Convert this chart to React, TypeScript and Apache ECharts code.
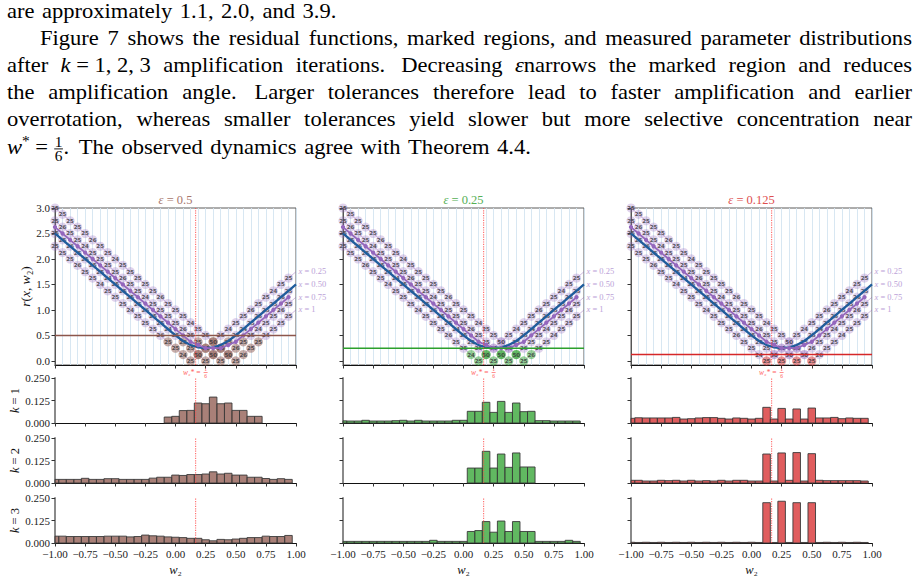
import React, { useEffect, useRef } from 'react';
import * as echarts from 'echarts';

// ---------------- data ----------------
const wGrid = [-1, -0.9375, -0.875, -0.8125, -0.75, -0.6875, -0.625, -0.5625, -0.5, -0.4375, -0.375, -0.3125, -0.25, -0.1875, -0.125, -0.0625, 0, 0.0625, 0.125, 0.1875, 0.25, 0.3125, 0.375, 0.4375, 0.5, 0.5625, 0.625, 0.6875, 0.75, 0.8125, 0.875, 0.9375];
const wEnd = 1;
const xLabelTexts = ['0.25', '0.50', '0.75', '1'];

const rX025 = [2.25, 2.125, 2.0, 1.875, 1.75, 1.625, 1.5, 1.375, 1.25, 1.125, 1.0, 0.875, 0.75, 0.625, 0.5, 0.375, 0.25, 0.125, 0, 0.125, 0.25, 0.375, 0.5, 0.625, 0.75, 0.875, 1.0, 1.125, 1.25, 1.375, 1.5, 1.625];
const rX050 = [2.5, 2.375, 2.25, 2.125, 2.0, 1.875, 1.75, 1.625, 1.5, 1.375, 1.25, 1.125, 1.0, 0.875, 0.75, 0.625, 0.5, 0.375, 0.25, 0.125, 0, 0.125, 0.25, 0.375, 0.5, 0.625, 0.75, 0.875, 1.0, 1.125, 1.25, 1.375];
const rX075 = [2.75, 2.625, 2.5, 2.375, 2.25, 2.125, 2.0, 1.875, 1.75, 1.625, 1.5, 1.375, 1.25, 1.125, 1.0, 0.875, 0.75, 0.625, 0.5, 0.375, 0.25, 0.125, 0, 0.125, 0.25, 0.375, 0.5, 0.625, 0.75, 0.875, 1.0, 1.125];
const rX100 = [3.0, 2.875, 2.75, 2.625, 2.5, 2.375, 2.25, 2.125, 2.0, 1.875, 1.75, 1.625, 1.5, 1.375, 1.25, 1.125, 1.0, 0.875, 0.75, 0.625, 0.5, 0.375, 0.25, 0.125, 0, 0.125, 0.25, 0.375, 0.5, 0.625, 0.75, 0.875];
const rAtWEnd = [1.75, 1.5, 1.25, 1.0];

const cX025 = [25, 25, 25, 26, 25, 25, 24, 25, 25, 25, 24, 25, 25, 25, 26, 25, 25, 24, 25, 25, 25, 25, 25, 24, 25, 25, 26, 25, 25, 24, 25, 25];
const cX050 = [25, 25, 26, 25, 25, 25, 25, 24, 25, 25, 25, 25, 26, 25, 25, 24, 25, 25, 25, 25, 25, 25, 25, 25, 25, 24, 25, 25, 25, 25, 26, 25];
const cX075 = [25, 26, 25, 25, 24, 25, 25, 25, 25, 26, 25, 25, 24, 25, 25, 25, 25, 26, 25, 25, 25, 25, 25, 25, 26, 25, 25, 24, 25, 25, 26, 25];
const cX100 = [25, 25, 25, 25, 25, 26, 25, 25, 24, 25, 25, 25, 25, 25, 26, 25, 25, 25, 24, 25, 25, 25, 25, 25, 25, 26, 25, 25, 24, 25, 25, 25];

// mean residual over x (continuous) and over the four sampled x
const blueCurve = [2.5, 2.375, 2.25, 2.125, 2.0, 1.875, 1.75, 1.625, 1.5, 1.375, 1.25, 1.125, 1.0, 0.875, 0.75, 0.625, 0.5, 0.391, 0.3125, 0.266, 0.25, 0.266, 0.3125, 0.391, 0.5, 0.625, 0.75, 0.875, 1.0, 1.125, 1.25, 1.375, 1.5];
const purpleMean = [2.625, 2.5, 2.375, 2.25, 2.125, 2.0, 1.875, 1.75, 1.625, 1.5, 1.375, 1.25, 1.125, 1.0, 0.875, 0.75, 0.625, 0.5, 0.375, 0.3125, 0.25, 0.25, 0.25, 0.3125, 0.375, 0.5, 0.625, 0.75, 0.875, 1.0, 1.125, 1.25];

const epsilons = [0.5, 0.25, 0.125];
const epsTitles = ['0.5', '0.25', '0.125'];
const wStar = 1 / 6;

const h05k1 = [0, 0, 0, 0, 0, 0, 0, 0, 0, 0, 0, 0, 0, 0, 0, 0.033, 0.037, 0.069, 0.070, 0.111, 0.107, 0.144, 0.107, 0.111, 0.070, 0.070, 0.037, 0.037, 0, 0, 0, 0];
const h05k2 = [0.02, 0.02, 0.02, 0.02, 0.026, 0.02, 0.02, 0.024, 0.024, 0.02, 0.02, 0.02, 0.02, 0.027, 0.032, 0.032, 0.044, 0.042, 0.047, 0.047, 0.05, 0.062, 0.05, 0.054, 0.044, 0.044, 0.032, 0.032, 0.025, 0.02, 0.024, 0.02];
const h05k3 = [0.038, 0.038, 0.036, 0.036, 0.036, 0.036, 0.036, 0.038, 0.038, 0.038, 0.034, 0.036, 0.044, 0.04, 0.038, 0.034, 0.032, 0.03, 0.026, 0.026, 0.018, 0.012, 0.02, 0.018, 0.022, 0.026, 0.03, 0.03, 0.038, 0.036, 0.036, 0.042];
const h025k1 = [0.012, 0.011, 0.011, 0.015, 0.011, 0.011, 0.011, 0.013, 0.015, 0.011, 0.015, 0.011, 0.011, 0.011, 0.011, 0.015, 0.015, 0.065, 0.065, 0.115, 0.059, 0.12, 0.059, 0.111, 0.063, 0.065, 0.013, 0.013, 0.011, 0.011, 0.011, 0.011];
const h025k2 = [0, 0, 0, 0, 0, 0, 0, 0, 0, 0, 0, 0, 0, 0, 0, 0, 0, 0.083, 0.083, 0.176, 0.083, 0.161, 0.087, 0.167, 0.089, 0.089, 0, 0, 0, 0, 0, 0];
const h025k3 = [0.009, 0.009, 0.009, 0.009, 0.009, 0.009, 0.009, 0.009, 0.009, 0.009, 0.009, 0.009, 0.015, 0.009, 0.009, 0.009, 0.009, 0.064, 0.069, 0.119, 0.06, 0.122, 0.064, 0.119, 0.064, 0.064, 0.009, 0.009, 0.009, 0.009, 0.015, 0.009];
const h0125k1 = [0.026, 0.029, 0.028, 0.028, 0.028, 0.028, 0.031, 0.022, 0.024, 0.028, 0.03, 0.03, 0.026, 0.022, 0.028, 0.026, 0.022, 0.026, 0.087, 0.022, 0.081, 0.022, 0.078, 0.022, 0.083, 0.028, 0.028, 0.031, 0.024, 0.028, 0.026, 0.026];
const h0125k2 = [0.015, 0.015, 0.011, 0.011, 0.015, 0.013, 0.015, 0.011, 0.015, 0.011, 0.013, 0.011, 0.015, 0.011, 0.015, 0.015, 0.011, 0.011, 0.161, 0.011, 0.167, 0.015, 0.169, 0.011, 0.163, 0.015, 0.013, 0.013, 0.013, 0.013, 0.013, 0.011];
const h0125k3 = [0.004, 0.003, 0.004, 0.003, 0.004, 0.003, 0.004, 0.003, 0.004, 0.003, 0.004, 0.003, 0.004, 0.003, 0.004, 0.003, 0.004, 0.003, 0.224, 0.003, 0.232, 0.003, 0.224, 0.003, 0.224, 0.003, 0.004, 0.003, 0.004, 0.003, 0.004, 0.003];

const yTicksTop = [0, 0.5, 1, 1.5, 2, 2.5, 3];
const topRange = [-0.08, 3.0];
const histRange = [0, 0.25];
const binWidth = 0.0625;

const PARA = [
  { x0: 7, x1: null, base: 17.9, text: 'are approximately 1.1, 2.0, and 3.9.' },
  { x0: 40, x1: 912, base: 45.1, text: 'Figure 7 shows the residual functions, marked regions, and measured parameter distributions' },
  { x0: 7, x1: 912, base: 72.3, text: 'after {k}~=~1,~2,~3 amplification iterations. Decreasing {ε}narrows the marked region and reduces' },
  { x0: 7, x1: 912, base: 99.5, text: 'the amplification angle. Larger tolerances therefore lead to faster amplification and earlier' },
  { x0: 7, x1: 912, base: 126.7, text: 'overrotation, whereas smaller tolerances yield slower but more selective concentration near' },
  { x0: 7, x1: null, base: 153.9, text: '{w}^*~=~[1/6]. The observed dynamics agree with Theorem 4.4.' },
];

// ---------------- layout / style ----------------
const FONT = 'Liberation Serif, DejaVu Serif, serif';
const colLeft = [55, 343, 631];
const plotW = 241;
const topTop = 208;
const topH = 157;
const histTops = [378, 438, 498];
const histH = 45;
const colColors = ['#8c564b', '#2ca02c', '#d62728'];
const titleColors = ['#a8776c', '#55b055', '#de4f4f'];
const barFills = ['rgba(140,86,75,0.75)', 'rgba(44,160,44,0.75)', 'rgba(214,39,40,0.75)'];
const markFills = ['rgba(140,86,75,0.6)', 'rgba(44,160,44,0.6)', 'rgba(214,39,40,0.62)'];
const lavender = 'rgba(148,103,189,0.36)';
const labelPurple = '#bca2d8';
const PS = 20.5;
const SX = 1.1;

const fmt2 = (v: number) => (v < 0 ? '\u2212' : '') + Math.abs(v).toFixed(2);

function txt(text: string, x: number, y: number, size: number, fill: string, align: string, italic?: boolean, rich?: any, sx?: number) {
  const style: any = {
    text, x: 0, y: 0, fontSize: size, fontFamily: FONT, fontStyle: italic ? 'italic' : 'normal', fill,
    textAlign: align, textVerticalAlign: 'middle', align, verticalAlign: 'middle',
  };
  if (rich) style.rich = rich;
  return { type: 'text', silent: true, x, y, scaleX: sx || 1, style };
}

function buildOption(topSeries: number[], histSeries: number[][]) {
  const grid: any[] = [];
  const xAxis: any[] = [];
  const yAxis: any[] = [];
  const series: any[] = [];
  const rLines = [rX025, rX050, rX075, rX100];
  const cLines = [cX025, cX050, cX075, cX100];
  const hists = [[h05k1, h05k2, h05k3], [h025k1, h025k2, h025k3], [h0125k1, h0125k2, h0125k3]];
  const nameRich = { i: { fontStyle: 'italic', fontSize: 12.5, fontFamily: FONT, color: '#111' } };

  for (let c = 0; c < 3; c++) {
    for (let r = 0; r < 4; r++) {
      const g = c * 4 + r;
      const isTop = r === 0;
      grid.push({
        left: colLeft[c], width: plotW,
        top: isTop ? topTop : histTops[r - 1], height: isTop ? topH : histH,
        show: isTop, borderColor: '#5a5a5a', borderWidth: 1, backgroundColor: 'rgba(0,0,0,0)',
        containLabel: false, outerBoundsMode: 'none',
      });
      xAxis.push({
        type: 'value', gridIndex: g, min: -1, max: 1, interval: 0.25, position: 'bottom',
        axisLine: { show: true, onZero: false, lineStyle: { color: '#111', width: 1.2 } },
        axisTick: { show: true, length: 3.5, lineStyle: { color: '#333', width: 1 } },
        axisLabel: {
          show: r === 3, formatter: fmt2, fontSize: 11, fontFamily: FONT, color: '#222', margin: 5,
          showMinLabel: true, showMaxLabel: true, hideOverlap: false,
        },
        splitLine: { show: false },
        name: r === 3 ? '{i|w}\u2082' : '', nameLocation: 'middle', nameGap: 20,
        nameTextStyle: { fontSize: 12.5, fontFamily: FONT, color: '#111', rich: nameRich },
      });
      if (isTop) {
        yAxis.push({
          type: 'value', gridIndex: g, min: topRange[0], max: topRange[1],
          axisLine: { show: true, onZero: false, lineStyle: { color: '#555', width: 1 } },
          axisTick: { show: true, length: 3.5, customValues: yTicksTop, lineStyle: { color: '#333' } },
          axisLabel: { show: c === 0, customValues: yTicksTop, formatter: (v: number) => v.toFixed(1), fontSize: 11, fontFamily: FONT, color: '#222', margin: 5 },
          splitLine: { show: false },
          name: c === 0 ? '{i|r}({i|x}, {i|w}\u2082)' : '', nameLocation: 'middle', nameGap: 22, nameRotate: 90,
          nameTextStyle: { fontSize: 13.5, fontFamily: FONT, color: '#111', rich: { i: { ...nameRich.i, fontSize: 13.5 } } },
        });
      } else {
        yAxis.push({
          type: 'value', gridIndex: g, min: histRange[0], max: histRange[1], interval: 0.125,
          axisLine: { show: true, onZero: false, lineStyle: { color: '#8a8a8a', width: 2 } },
          axisTick: { show: true, length: 3.5, lineStyle: { color: '#333' } },
          axisLabel: { show: c === 0, formatter: (v: number) => v.toFixed(3), fontSize: 11, fontFamily: FONT, color: '#222', margin: 5 },
          splitLine: { show: false },
          name: c === 0 ? '{i|k} = ' + r : '', nameLocation: 'middle', nameGap: 31, nameRotate: 90,
          nameTextStyle: { fontSize: 12.5, fontFamily: FONT, color: '#111', rich: nameRich },
        });
      }
    }
  }
  // light vertical grid lines of the residual panels
  for (let c = 0; c < 3; c++) {
    xAxis.push({
      type: 'value', gridIndex: c * 4, min: -1, max: 1, interval: binWidth, position: 'top',
      axisLine: { show: false }, axisTick: { show: false }, axisLabel: { show: false },
      splitLine: { show: true, lineStyle: { color: '#d4e4f1', width: 0.9 } },
    });
  }

  for (let c = 0; c < 3; c++) {
    const g = c * 4;
    const eps = epsilons[c];
    const axes = { xAxisIndex: g, yAxisIndex: g };
    for (let j = 0; j < 4; j++) {
      series.push({
        type: 'line', ...axes, silent: true, z: 1, showSymbol: false,
        data: wGrid.map((w, i) => [w, rLines[j][i]]).concat([[wEnd, rAtWEnd[j]]]),
        lineStyle: { color: 'rgba(148,103,189,0.55)', width: 0.8 },
      });
    }
    const pts: any[] = [];
    const merged = new Map<string, number[]>();
    for (let j = 0; j < 4; j++) {
      wGrid.forEach((w, i) => {
        const rv = rLines[j][i];
        const marked = rv < eps;
        pts.push({ value: [w, rv], itemStyle: { color: marked ? markFills[c] : lavender } });
        const key = w + '|' + rv;
        const prev = merged.get(key);
        if (prev) prev[2] += cLines[j][i];
        else merged.set(key, [w, rv, cLines[j][i]]);
      });
    }
    topSeries[c] = series.length;
    series.push({
      type: 'scatter', ...axes, silent: true, z: 2, symbol: 'circle', symbolSize: 9.2,
      data: pts, itemStyle: { borderWidth: 0 },
    });
    series.push({
      type: 'scatter', ...axes, silent: true, z: 3, symbol: 'circle', symbolSize: 8,
      data: Array.from(merged.values()),
      itemStyle: { color: 'rgba(0,0,0,0)' },
      label: {
        show: true, position: 'inside', formatter: (p: any) => String(p.value[2]),
        fontSize: 5.5, fontFamily: 'DejaVu Sans, sans-serif', color: '#333', fontWeight: 'bold',
      },
    });
    series.push({
      type: 'line', ...axes, silent: true, z: 4, showSymbol: false,
      data: wGrid.concat([wEnd]).map((w, i) => [w, blueCurve[i]]),
      lineStyle: { color: '#1f5d9c', width: 2.3 },
    });
    series.push({
      type: 'line', ...axes, silent: true, z: 5, showSymbol: true, symbol: 'circle', symbolSize: 4.4,
      data: wGrid.map((w, i) => [w, purpleMean[i]]),
      lineStyle: { color: '#9467bd', width: 1.8 }, itemStyle: { color: '#9467bd' },
    });
    series.push({
      type: 'line', ...axes, silent: true, z: 6, showSymbol: false,
      data: [[-1, eps], [1, eps]], lineStyle: { color: colColors[c], width: 1.4 },
    });
    series.push({
      type: 'line', ...axes, silent: true, z: 7, showSymbol: false,
      data: [[wStar, topRange[0]], [wStar, topRange[1]]],
      lineStyle: { color: 'rgba(255,70,70,0.75)', width: 1.2, type: 'dotted' },
    });

    histSeries[c] = [];
    for (let k = 0; k < 3; k++) {
      const hg = c * 4 + k + 1;
      const fill = barFills[c];
      histSeries[c][k] = series.length;
      series.push({
        type: 'custom', xAxisIndex: hg, yAxisIndex: hg, silent: true, z: 2,
        encode: { x: 0, y: 1 },
        data: wGrid.map((w, i) => [w, hists[c][k][i]]).filter((d) => d[1] > 0),
        renderItem: (params: any, api: any) => {
          const w = api.value(0);
          const v = api.value(1);
          const p0 = api.coord([w - binWidth / 2, v]);
          const p1 = api.coord([w + binWidth / 2, 0]);
          const cs = params.coordSys;
          const rect = echarts.graphic.clipRectByRect(
            { x: p0[0], y: p0[1], width: p1[0] - p0[0], height: p1[1] - p0[1] },
            { x: cs.x, y: cs.y, width: cs.width, height: cs.height + 1 }
          );
          if (!rect) return null;
          return { type: 'rect', shape: rect, style: { fill, stroke: '#3a3a3a', lineWidth: 0.9 } };
        },
      });
      series.push({
        type: 'line', xAxisIndex: hg, yAxisIndex: hg, silent: true, z: 5, showSymbol: false,
        data: [[wStar, histRange[0]], [wStar, histRange[1]]],
        lineStyle: { color: 'rgba(255,70,70,0.75)', width: 1.2, type: 'dotted' },
      });
    }
  }

  return { animation: false, backgroundColor: '#fff', grid, xAxis, yAxis, series };
}

type Seg = { t: string; it?: boolean; sup?: boolean; frac?: string[] };

function parseWord(s: string): Seg[] {
  const segs: Seg[] = [];
  let cur = '';
  let it = false;
  const flush = () => { if (cur) { segs.push({ t: cur, it }); cur = ''; } };
  for (let k = 0; k < s.length; k++) {
    const ch = s[k];
    if (ch === '{') { flush(); it = true; }
    else if (ch === '}') { flush(); it = false; }
    else if (ch === '^') { flush(); segs.push({ t: s[k + 1], sup: true }); k++; }
    else if (ch === '[') {
      flush();
      const e = s.indexOf(']', k);
      segs.push({ t: '', frac: s.slice(k + 1, e).split('/') });
      k = e;
    } else if (ch === '~') cur += ' ';
    else cur += ch;
  }
  flush();
  return segs;
}

function buildParagraph(): any[] {
  const els: any[] = [];
  const ctx = document.createElement('canvas').getContext('2d') as CanvasRenderingContext2D;
  const fontStr = (size: number, it?: boolean) => `${it ? 'italic ' : ''}${size}px ${FONT}`;
  const meas = (t: string, size: number, it?: boolean) => { ctx.font = fontStr(size, it); return ctx.measureText(t).width * SX; };
  const segW = (s: Seg) => {
    if (s.frac) return Math.max(meas(s.frac[0], 14), meas(s.frac[1], 14)) + 2;
    if (s.sup) return meas(s.t, 14);
    return meas(s.t, PS, s.it);
  };
  const lines = PARA.map((L) => {
    const words = L.text.split(' ').map(parseWord);
    const widths = words.map((ws) => ws.reduce((a, s) => a + segW(s), 0));
    const weights = words.slice(0, -1).map((ws) => {
      const last = ws[ws.length - 1];
      return last && !last.frac && /[.]$/.test(last.t) ? 1.3 : 1;
    });
    return { L, words, widths, weights };
  });
  let gSum = 0;
  let gN = 0;
  lines.forEach((ln) => {
    if (ln.L.x1 != null) {
      const tot = ln.widths.reduce((a, b) => a + b, 0);
      const wsum = ln.weights.reduce((a, b) => a + b, 0);
      gSum += ((ln.L.x1 as number) - ln.L.x0 - tot) / wsum;
      gN++;
    }
  });
  const avgGap = Math.min(gSum / gN, 7.5);
  lines.forEach((ln) => {
    const { L, words, widths, weights } = ln;
    let unit = avgGap;
    if (L.x1 != null) {
      const tot = widths.reduce((a, b) => a + b, 0);
      unit = ((L.x1 as number) - L.x0 - tot) / weights.reduce((a, b) => a + b, 0);
    }
    const mid = L.base - 0.3375 * PS;
    let x = L.x0;
    words.forEach((ws, wi) => {
      ws.forEach((s) => {
        const sw = segW(s);
        if (s.frac) {
          const barY = L.base - 5;
          els.push(txt(s.frac[0], x + sw / 2, barY - 6.5, 14, '#000', 'center', false, null, SX));
          els.push(txt(s.frac[1], x + sw / 2, barY + 7.5, 14, '#000', 'center', false, null, SX));
          els.push({ type: 'line', silent: true, shape: { x1: x + 0.5, y1: barY, x2: x + sw - 0.5, y2: barY }, style: { stroke: '#000', lineWidth: 0.9 } });
        } else if (s.sup) {
          els.push(txt(s.t, x, mid - 6, 14, '#000', 'left', false, null, SX));
        } else {
          els.push(txt(s.t, x, mid, PS, '#000', 'left', s.it, null, SX));
        }
        x += sw;
      });
      if (wi < words.length - 1) x += unit * weights[wi];
    });
  });
  return els;
}

function buildGraphics(chart: any, topSeries: number[], histSeries: number[][]): any[] {
  const els: any[] = buildParagraph();
  const px = (s: number, p: number[]) => chart.convertToPixel({ seriesIndex: s }, p) as number[];
  for (let c = 0; c < 3; c++) {
    const s = topSeries[c];
    const tp = px(s, [0, topRange[1]]);
    els.push(txt('{i|\u03b5} = ' + epsTitles[c], tp[0], tp[1] - 8.5, 12.5, titleColors[c], 'center', false,
      { i: { fontStyle: 'italic', fontSize: 12.5, fontFamily: FONT, fill: titleColors[c] } }));
    for (let j = 0; j < 4; j++) {
      const p = px(s, [wEnd, rAtWEnd[j]]);
      els.push(txt('{i|x} = ' + xLabelTexts[j], p[0] + 2.5, p[1] - 0.5, 8.5, labelPurple, 'left', false,
        { i: { fontStyle: 'italic', fontSize: 8.5, fontFamily: FONT, fill: labelPurple } }));
    }
    const a = px(histSeries[c][0], [wStar, histRange[1]]);
    const cy = a[1] - 5.5;
    const red = '#ff6060';
    els.push(txt('{i|w}\u2082* =', a[0] + 5, cy, 7.5, red, 'right', false,
      { i: { fontStyle: 'italic', fontSize: 7.5, fontFamily: FONT, fill: red } }));
    els.push(txt('1', a[0] + 10, cy - 3.6, 5.5, red, 'center'));
    els.push(txt('6', a[0] + 10, cy + 3.6, 5.5, red, 'center'));
    els.push({ type: 'line', silent: true, shape: { x1: a[0] + 8, y1: cy, x2: a[0] + 12, y2: cy }, style: { stroke: red, lineWidth: 0.7 } });
  }
  return els;
}

export default function App() {
  const ref = useRef<HTMLDivElement>(null);
  useEffect(() => {
    const el = ref.current;
    if (!el) return;
    const chart = echarts.init(el, undefined, { renderer: 'svg' });
    const topSeries: number[] = [];
    const histSeries: number[][] = [];
    chart.setOption(buildOption(topSeries, histSeries));
    chart.setOption({ graphic: { elements: buildGraphics(chart, topSeries, histSeries) } });
    return () => chart.dispose();
  }, []);
  return (
    <div
      ref={ref}
      style={{ position: 'absolute', left: 0, top: 0, width: 919, height: 579, background: '#fff' }}
    />
  );
}
